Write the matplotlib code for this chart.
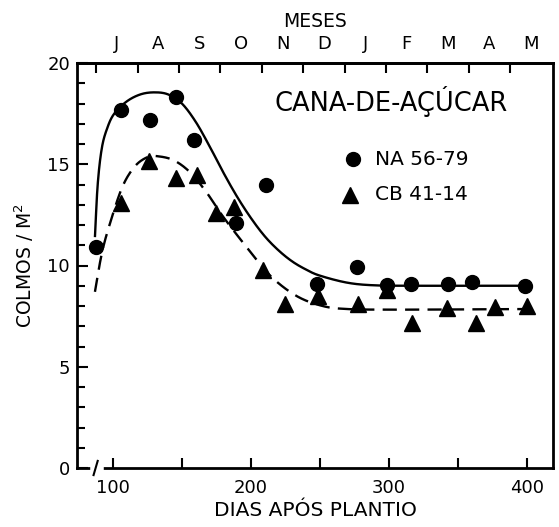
import numpy as np
import matplotlib
matplotlib.use("Agg")
import matplotlib.pyplot as plt
from matplotlib.ticker import FixedLocator, NullFormatter, FixedFormatter

plt.rcParams['font.family'] = ['DejaVu Sans']

# ---- data ----
na_days = [88, 106, 127, 146, 159, 189, 211, 248, 277, 299, 316, 343, 360, 399]
na_vals = [10.9, 17.7, 17.2, 18.3, 16.2, 12.1, 14.0, 9.1, 9.95, 9.05, 9.1, 9.1, 9.2, 9.0]

cb_days = [106, 126, 146, 161, 175, 188, 209, 225, 249, 278, 299, 317, 342, 363, 377, 400]
cb_vals = [13.1, 15.15, 14.3, 14.45, 12.6, 12.9, 9.8, 8.1, 8.5, 8.1, 8.8, 7.15, 7.9, 7.15, 7.95, 8.0]

# fitted curves
na_fit_days = [87, 89, 92, 96, 101, 110, 120, 130, 140, 150, 160, 170, 180, 190, 200, 210, 220, 230, 240, 250, 270, 290, 320, 360, 400]
na_fit_vals = [11.4, 14.0, 15.8, 16.8, 17.5, 18.1, 18.45, 18.55, 18.45, 18.0, 17.1, 15.9, 14.6, 13.4, 12.35, 11.45, 10.75, 10.2, 9.8, 9.5, 9.15, 9.02, 9.0, 9.0, 9.0]

cb_fit_days = [87, 92, 98, 107, 116, 125, 132, 144, 156, 168, 180, 197, 214, 233, 252, 270, 300, 350, 400]
cb_fit_vals = [8.7, 10.6, 12.1, 13.9, 14.9, 15.35, 15.4, 15.2, 14.6, 13.6, 12.4, 10.9, 9.5, 8.5, 8.0, 7.85, 7.82, 7.83, 7.85]

months = ['J', 'A', 'S', 'O', 'N', 'D', 'J', 'F', 'M', 'A', 'M']
month_bounds = [88, 118, 148, 178, 208, 238, 268, 298, 328, 358, 388]
month_mids = [103, 133, 163, 193, 223, 253, 283, 313, 343, 373, 403]

series_labels = ['NA 56-79', 'CB 41-14']
title_text = 'CANA-DE-AÇÚCAR'


def smooth(xs, ys, n=20):
    xs = np.asarray(xs, float); ys = np.asarray(ys, float)
    px = np.concatenate([[2*xs[0]-xs[1]], xs, [2*xs[-1]-xs[-2]]])
    py = np.concatenate([[2*ys[0]-ys[1]], ys, [2*ys[-1]-ys[-2]]])
    ox, oy = [], []
    t = np.linspace(0, 1, n, endpoint=False)
    for i in range(1, len(px)-2):
        for arr, out in ((px, ox), (py, oy)):
            p0, p1, p2, p3 = arr[i-1], arr[i], arr[i+1], arr[i+2]
            out.extend(0.5*((2*p1) + (-p0+p2)*t + (2*p0-5*p1+4*p2-p3)*t**2 + (-p0+3*p1-3*p2+p3)*t**3))
    ox.append(xs[-1]); oy.append(ys[-1])
    return np.array(ox), np.array(oy)


fig = plt.figure(figsize=(5.59, 5.27), dpi=100)
ax = fig.add_axes([77/559, 1-468/527, (553-77)/559, (468-63)/527])

ax.set_xlim(74, 419)
ax.set_ylim(0, 20)

sx, sy = smooth(na_fit_days, na_fit_vals)
ax.plot(sx, sy, color='black', lw=1.7, solid_capstyle='butt')
dx, dy = smooth(cb_fit_days, cb_fit_vals)
ax.plot(dx, dy, color='black', lw=1.7, dashes=(6, 3.5))

ax.plot(na_days, na_vals, 'o', color='black', ms=10, mec='black', clip_on=False, zorder=5)
ax.plot(cb_days, cb_vals, '^', color='black', ms=11, mec='black', clip_on=False, zorder=5)

# title and legend
ax.text(302, 18.1, title_text, fontsize=18.5, ha='center', va='center')
ax.plot([274], [15.25], 'o', color='black', ms=10)
ax.plot([272], [13.5], '^', color='black', ms=11)
ax.text(290, 15.25, series_labels[0], fontsize=14.5, ha='left', va='center')
ax.text(290, 13.5, series_labels[1], fontsize=14.5, ha='left', va='center')

# spines
for s in ax.spines.values():
    s.set_linewidth(2.0)

# y ticks
ax.yaxis.set_major_locator(FixedLocator([0, 5, 10, 15, 20]))
ax.yaxis.set_minor_locator(FixedLocator([v for v in range(1, 20) if v % 5]))
ax.tick_params(axis='y', which='both', direction='in', labelsize=13, width=1.5, pad=5)
ax.tick_params(axis='y', which='major', length=8)
ax.tick_params(axis='y', which='minor', length=6)

# x ticks bottom
ax.xaxis.set_major_locator(FixedLocator([100, 200, 300, 400]))
ax.xaxis.set_minor_locator(FixedLocator([150, 250, 350]))
ax.tick_params(axis='x', which='both', direction='in', labelsize=13, width=1.5, length=7, pad=8)

# top month axis
top = ax.secondary_xaxis('top')
top.xaxis.set_major_locator(FixedLocator(month_bounds))
top.xaxis.set_major_formatter(NullFormatter())
top.xaxis.set_minor_locator(FixedLocator(month_mids))
top.xaxis.set_minor_formatter(FixedFormatter(months))
top.tick_params(axis='x', which='major', direction='in', length=7, width=1.5)
top.tick_params(axis='x', which='minor', length=0, labelsize=13, pad=7)
top.spines['top'].set_linewidth(2.0)
top.set_xlabel('MESES', fontsize=13.5, labelpad=6)

ax.set_xlabel('DIAS APÓS PLANTIO', fontsize=14.5, labelpad=3)
ax.set_ylabel('COLMOS / M$^{2}$', fontsize=13.5, labelpad=8)

# axis break on bottom spine
ax.plot([85.5, 91.5], [0, 0], color='white', lw=4, clip_on=False, zorder=6)
ax.plot([86, 89], [-0.35, 0.35], color='black', lw=1.5, clip_on=False, zorder=7)

fig.savefig('out.png', dpi=100)
